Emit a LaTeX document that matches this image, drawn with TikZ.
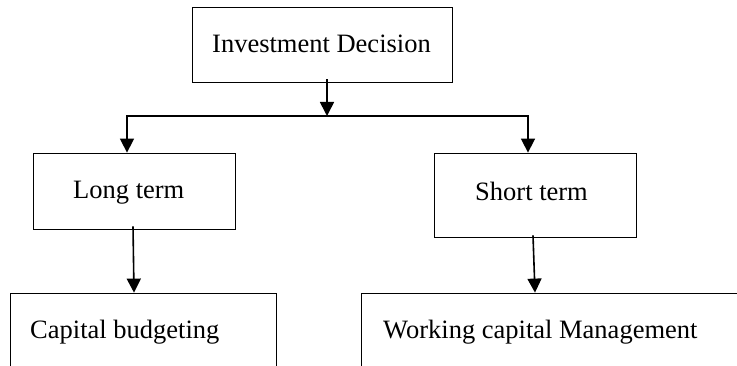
\documentclass[tikz,border=0pt]{standalone}
\usepackage{fontspec}
\setmainfont{Liberation Serif}
\usetikzlibrary{arrows.meta}
\begin{document}
\begin{tikzpicture}[x=1pt,y=-1pt,
  box/.style={draw=black,line width=0.8pt,rectangle,inner sep=0pt,anchor=center},
  lbl/.style={inner sep=0pt,anchor=base west,font=\fontsize{26.5}{30}\selectfont},
  arr/.style={line width=1.6pt,-{Triangle[length=14pt,width=14pt]}},
  conn/.style={line width=1.6pt}]
\useasboundingbox (0,0) rectangle (737,366);
\clip (0,0) rectangle (737,366);
% boxes
\node[box,minimum width=260pt,minimum height=75pt] (top) at (322,44.5) {};
\node[box,minimum width=202pt,minimum height=76pt] (long) at (134,191) {};
\node[box,minimum width=202pt,minimum height=84pt] (short) at (535,195) {};
\node[box,minimum width=266pt,minimum height=100pt] (cap) at (143,343) {};
\node[box,minimum width=400pt,minimum height=73pt] (work) at (561,329.5) {};
% labels
\node[lbl] (t1) at (212,53) {Investment Decision};
\node[lbl] (t2) at (73,199) {Long term};
\node[lbl] (t3) at (475,201) {Short term};
\node[lbl] (t4) at (30,338) {Capital budgeting};
\node[lbl] (t5) at (383,338) {Working capital Management};
% junctions
\coordinate (j) at (327,116);
\coordinate (jl) at (127,116);
\coordinate (jr) at (528,116);
% connectors
\draw[arr] ([yshift=3pt]top.south -| j) -- (j);
\draw[conn] ([xshift=-0.8pt]jl) -- ([xshift=0.8pt]jr);
\draw[arr] (jl) -- (long.north -| jl);
\draw[arr] (jr) -- (short.north -| jr);
\draw[arr] ([shift={(-1,-3)}]long.south) -- (long.south |- cap.north);
\draw[arr] ([shift={(-2,-2)}]short.south) -- (short.south |- work.north);
\end{tikzpicture}
\end{document}
